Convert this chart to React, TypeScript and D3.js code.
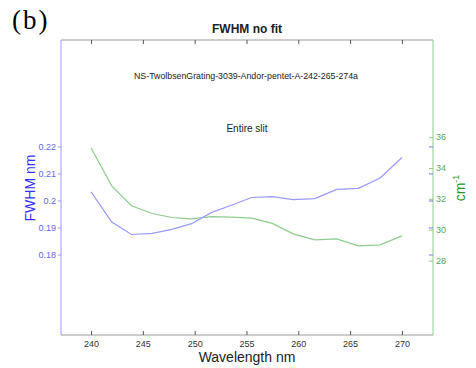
import * as d3 from "d3";
import { useEffect, useRef } from "react";

const wavelengths = [240, 242, 243.9, 245.9, 247.8, 249.7, 251.6, 253.6, 255.5, 257.5, 259.5, 261.6, 263.7, 265.8, 267.9, 270];
const fwhmNm = [0.2032, 0.192, 0.1874, 0.1878, 0.1893, 0.1914, 0.1955, 0.1983, 0.2011, 0.2014, 0.2003, 0.2007, 0.2041, 0.2045, 0.2083, 0.2159];
const fwhmCm = [35.29, 32.84, 31.55, 31.05, 30.79, 30.7, 30.85, 30.81, 30.75, 30.41, 29.73, 29.34, 29.41, 28.95, 29.02, 29.6];
const xTicks = [240, 245, 250, 255, 260, 265, 270];
const leftTicks = [0.18, 0.19, 0.2, 0.21, 0.22];
const rightTicks = [28, 30, 32, 34, 36];

const App: React.FC = () => {
  const ref = useRef<SVGSVGElement | null>(null);

  useEffect(() => {
    const width = 476;
    const height = 368;
    const margin = { top: 40, right: 43, bottom: 33, left: 61 };
    const blue = "#9a9aff";
    const green = "#8fcc8f";
    const axisGray = "#9a9a9a";
    const font = "Arial, 'Liberation Sans', sans-serif";

    const svg = d3.select(ref.current);
    svg.selectAll("*").remove();

    const x = d3
      .scaleLinear()
      .domain([237.1, 273])
      .range([margin.left, width - margin.right]);
    const yL = d3
      .scaleLinear()
      .domain([0.1502, 0.2594])
      .range([height - margin.bottom, margin.top]);
    const yR = d3
      .scaleLinear()
      .domain([23.18, 42.29])
      .range([height - margin.bottom, margin.top]);

    const x0 = margin.left;
    const x1 = width - margin.right;
    const y0 = margin.top;
    const y1 = height - margin.bottom;

    // box
    svg.append("line").attr("x1", x0).attr("x2", x1).attr("y1", y0).attr("y2", y0).attr("stroke", axisGray);
    svg.append("line").attr("x1", x0).attr("x2", x1).attr("y1", y1).attr("y2", y1).attr("stroke", axisGray);
    svg.append("line").attr("x1", x0).attr("x2", x0).attr("y1", y0).attr("y2", y1).attr("stroke", blue);
    svg.append("line").attr("x1", x1).attr("x2", x1).attr("y1", y0).attr("y2", y1).attr("stroke", green);

    const bottom = svg
      .append("g")
      .attr("transform", `translate(0,${y1})`)
      .call(d3.axisBottom(x).tickValues(xTicks).tickSizeInner(-4).tickSizeOuter(0).tickPadding(6));
    bottom.select(".domain").remove();
    bottom.selectAll("line").attr("stroke", "#555");
    bottom.selectAll("text").attr("font-family", font).attr("font-size", 9).attr("fill", "#333");

    const top = svg
      .append("g")
      .attr("transform", `translate(0,${y0})`)
      .call(d3.axisTop(x).tickValues(xTicks).tickSizeInner(-4).tickSizeOuter(0).tickFormat(() => ""));
    top.select(".domain").remove();
    top.selectAll("line").attr("stroke", "#555");

    const left = svg
      .append("g")
      .attr("transform", `translate(${x0},0)`)
      .call(d3.axisLeft(yL).tickValues(leftTicks).tickSizeInner(3).tickSizeOuter(0).tickPadding(2).tickFormat(d3.format("")));
    left.select(".domain").remove();
    left.selectAll("line").attr("stroke", blue);
    left.selectAll("text").attr("font-family", font).attr("font-size", 9).attr("fill", "#6666ee");

    const leftMirror = svg
      .append("g")
      .attr("transform", `translate(${x1},0)`)
      .call(d3.axisRight(yL).tickValues(leftTicks).tickSizeInner(-4).tickSizeOuter(0).tickFormat(() => ""));
    leftMirror.select(".domain").remove();
    leftMirror.selectAll("line").attr("stroke", "#7777ee");

    const right = svg
      .append("g")
      .attr("transform", `translate(${x1},0)`)
      .call(d3.axisRight(yR).tickValues(rightTicks).tickSizeInner(-4).tickSizeOuter(0).tickPadding(3));
    right.select(".domain").remove();
    right.selectAll("line").attr("stroke", green);
    right.selectAll("text").attr("font-family", font).attr("font-size", 9).attr("fill", "#55aa55");

    const idx = d3.range(wavelengths.length);
    const lineL = d3
      .line<number>()
      .x((i) => x(wavelengths[i]))
      .y((i) => yL(fwhmNm[i]));
    const lineR = d3
      .line<number>()
      .x((i) => x(wavelengths[i]))
      .y((i) => yR(fwhmCm[i]));

    svg.append("path").datum(idx).attr("d", lineR).attr("fill", "none").attr("stroke", green).attr("stroke-width", 1.2);
    svg.append("path").datum(idx).attr("d", lineL).attr("fill", "none").attr("stroke", blue).attr("stroke-width", 1.2);

    // texts
    svg.append("text").attr("x", 12).attr("y", 29).attr("font-family", "'Liberation Serif', 'Times New Roman', serif").attr("font-size", 27).attr("letter-spacing", 2).attr("fill", "#000").text("(b)");
    svg.append("text").attr("x", 247).attr("y", 33).attr("text-anchor", "middle").attr("font-family", font).attr("font-size", 12).attr("font-weight", "bold").attr("fill", "#222").text("FWHM no fit");
    svg.append("text").attr("x", 246).attr("y", 79).attr("text-anchor", "middle").attr("font-family", font).attr("font-size", 8.8).attr("fill", "#222").text("NS-TwolbsenGrating-3039-Andor-pentet-A-242-265-274a");
    svg.append("text").attr("x", 247).attr("y", 132).attr("text-anchor", "middle").attr("font-family", font).attr("font-size", 10).attr("fill", "#222").text("Entire slit");
    svg.append("text").attr("x", 247).attr("y", 362).attr("text-anchor", "middle").attr("font-family", font).attr("font-size", 14).attr("fill", "#222").text("Wavelength nm");
    svg.append("text").attr("transform", `translate(35,188) rotate(-90)`).attr("text-anchor", "middle").attr("font-family", font).attr("font-size", 14).attr("fill", "#3333ff").text("FWHM nm");
    const cm = svg.append("text").attr("transform", `translate(465,188) rotate(-90)`).attr("text-anchor", "middle").attr("font-family", font).attr("font-size", 14).attr("fill", "#229922");
    cm.append("tspan").text("cm");
    cm.append("tspan").attr("font-size", 9).attr("dy", -6).text("-1");
  }, []);

  return (
    <svg
      ref={ref}
      width={476}
      height={368}
      style={{ position: "absolute", left: 0, top: 0, background: "#fff" }}
    ></svg>
  );
};

export default App;
